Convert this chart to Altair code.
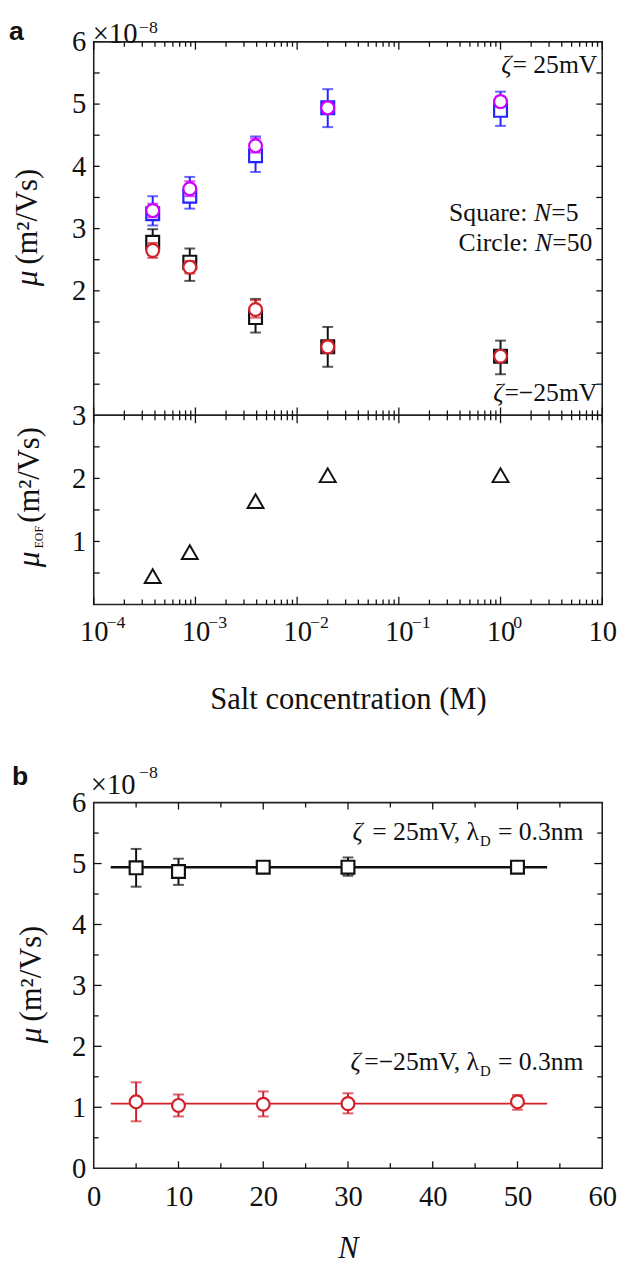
import altair as alt
import pandas as pd

# ---------------- data: panel a (top) ----------------
conc = [3.8e-4, 8.8e-4, 3.9e-3, 0.02, 1.0]
# zeta = -25 mV, square N=5 (black)
mu_sq_neg = [2.78, 2.46, 1.57, 1.10, 0.95]
lo_sq_neg = [2.60, 2.16, 1.33, 0.78, 0.66]
hi_sq_neg = [2.99, 2.68, 1.87, 1.42, 1.20]
# zeta = -25 mV, circle N=50 (red)
mu_ci_neg = [2.65, 2.38, 1.70, 1.10, 0.95]
lo_ci_neg = [2.53, 2.28, 1.57, 1.00, 0.87]
hi_ci_neg = [2.77, 2.48, 1.85, 1.20, 1.03]
# zeta = 25 mV, square N=5 (blue)
mu_sq_pos = [3.24, 3.52, 4.17, 4.94, 4.90]
lo_sq_pos = [3.05, 3.32, 3.91, 4.63, 4.65]
hi_sq_pos = [3.52, 3.83, 4.48, 5.24, 5.20]
# zeta = 25 mV, circle N=50 (magenta)
mu_ci_pos = [3.29, 3.64, 4.33, 4.94, 5.04]
lo_ci_pos = [3.18, 3.52, 4.22, 4.86, 4.96]
hi_ci_pos = [3.40, 3.76, 4.45, 5.02, 5.12]
# ---------------- data: panel a (bottom) ----------------
mu_eof = [0.45, 0.83, 1.64, 2.05, 2.05]
# ---------------- data: panel b ----------------
n_vals = [5, 10, 20, 30, 50]
mu_b_pos = [4.93, 4.87, 4.94, 4.94, 4.94]
lo_b_pos = [4.62, 4.65, 4.89, 4.80, 4.91]
hi_b_pos = [5.24, 5.08, 4.99, 5.10, 4.97]
mu_b_neg = [1.09, 1.03, 1.05, 1.06, 1.09]
lo_b_neg = [0.77, 0.85, 0.85, 0.90, 0.96]
hi_b_neg = [1.41, 1.21, 1.26, 1.23, 1.20]
fit_n = [2, 53.5]
fit_pos = [4.94, 4.94]
fit_neg = [1.06, 1.06]

# ---------------- tick values ----------------
decades = [1e-4, 1e-3, 1e-2, 1e-1, 1, 10]
decade_exp = ["\u22124", "\u22123", "\u22122", "\u22121", "0"]
minor_mult = [2, 3, 4, 5, 6, 7, 8, 9]
minor_log = [m * d for d in decades[:-1] for m in minor_mult]
y_half_top = [0.5 * i for i in range(1, 12)]
y_half_bot = [0.5 * i for i in range(1, 6)]
y_major_b = [1, 2, 3, 4, 5]
y_minor_b = [0.5, 1.5, 2.5, 3.5, 4.5, 5.5]
x_major_b = [10, 20, 30, 40, 50]
x_minor_b = [5, 15, 25, 35, 45, 55]

SERIF = "Liberation Serif"
SANS = "Liberation Sans"
W = 516
HT, HB, HBB = 379, 192, 371
BLACK, RED, BLUE, MAG = "#111111", "#d0202a", "#2424ff", "#cc00ff"
TS = 29   # tick label size
AS = 26   # annotation size

xs_log = alt.Scale(type="log", domain=[1e-4, 10], nice=False)
ys_top = alt.Scale(domain=[0, 6], nice=False, zero=False)
ys_bot = alt.Scale(domain=[0, 3], nice=False, zero=False)
xs_b = alt.Scale(domain=[0, 60], nice=False, zero=False)
ys_b = alt.Scale(domain=[0, 6], nice=False, zero=False)

ax_y_top = alt.Axis(values=[2, 3, 4, 5, 6], labelPadding=8, tickSize=0, title=None)
ax_y_bot = alt.Axis(values=[1, 2, 3], labelPadding=8, tickSize=0, title=None)
ax_x_bot = alt.Axis(values=decades, labelExpr="'10'", labelPadding=14, tickSize=0,
                    labelFlush=False, labelOverlap=False,
                    title="Salt concentration (M)", titlePadding=39)
ax_y_b = alt.Axis(values=[0, 1, 2, 3, 4, 5, 6], labelPadding=8, tickSize=0, title=None)
ax_x_b = alt.Axis(values=[0, 10, 20, 30, 40, 50, 60], labelPadding=15, tickSize=0,
                  labelFlush=False, labelOverlap=False, title="N",
                  titleFontStyle="italic", titlePadding=23)


def enc_x(field, scale, axis):
    if axis is None:
        return alt.X(field, type="quantitative", scale=scale, axis=None)
    return alt.X(field, type="quantitative", scale=scale, axis=axis)


def enc_y(field, scale, axis):
    if axis is None:
        return alt.Y(field, type="quantitative", scale=scale, axis=None)
    return alt.Y(field, type="quantitative", scale=scale, axis=axis)


def series(x, mu, lo, hi, color, shape, xsc, xax, ysc, yax, size=170, cap=11):
    d = pd.DataFrame({"x": x, "mu": mu, "lo": lo, "hi": hi})
    base = alt.Chart(d)
    bar = base.mark_rule(color=color, strokeWidth=2).encode(
        x=enc_x("x", xsc, xax), y=enc_y("lo", ysc, yax), y2="hi")
    c1 = base.mark_tick(orient="horizontal", color=color, size=cap, thickness=2).encode(
        x=enc_x("x", xsc, xax), y=enc_y("lo", ysc, yax))
    c2 = base.mark_tick(orient="horizontal", color=color, size=cap, thickness=2).encode(
        x=enc_x("x", xsc, xax), y=enc_y("hi", ysc, yax))
    pts = base.mark_point(shape=shape, filled=True, fill="white", stroke=color,
                          strokeWidth=2.2, size=size, opacity=1).encode(
        x=enc_x("x", xsc, xax), y=enc_y("mu", ysc, yax))
    return [bar, c1, c2, pts]


def yticks(vals, ysc, yax, h_len, w):
    d = pd.DataFrame({"v": vals})
    left = alt.Chart(d).mark_rule(color=BLACK, strokeWidth=1.3).encode(
        y=enc_y("v", ysc, yax), x=alt.value(0), x2=alt.value(h_len))
    right = alt.Chart(d).mark_rule(color=BLACK, strokeWidth=1.3).encode(
        y=enc_y("v", ysc, yax), x=alt.value(w - h_len), x2=alt.value(w))
    return [left, right]


def xticks(vals, xsc, xax, length, h, top=True, bottom=True):
    d = pd.DataFrame({"v": vals})
    out = []
    if top:
        out.append(alt.Chart(d).mark_rule(color=BLACK, strokeWidth=1.3).encode(
            x=enc_x("v", xsc, xax), y=alt.value(0), y2=alt.value(length)))
    if bottom:
        out.append(alt.Chart(d).mark_rule(color=BLACK, strokeWidth=1.3).encode(
            x=enc_x("v", xsc, xax), y=alt.value(h - length), y2=alt.value(h)))
    return out


def label(txt, x, y, size=AS, italic=False, align="left", baseline="alphabetic",
          angle=0, weight="normal", font=SERIF, color=BLACK):
    kw = dict(align=align, baseline=baseline, fontSize=size, font=font,
              fontStyle="italic" if italic else "normal", fontWeight=weight, color=color)
    if angle:
        kw["angle"] = angle
    return alt.Chart(pd.DataFrame({"t": [txt]})).mark_text(**kw).encode(
        x=alt.value(x), y=alt.value(y), text="t:N")


# ---------------- panel a, top ----------------
top_layers = []
top_layers += series(conc, mu_sq_neg, lo_sq_neg, hi_sq_neg, BLACK, "square", xs_log, None, ys_top, ax_y_top)
top_layers += series(conc, mu_sq_pos, lo_sq_pos, hi_sq_pos, BLUE, "square", xs_log, None, ys_top, ax_y_top)
top_layers += series(conc, mu_ci_neg, lo_ci_neg, hi_ci_neg, RED, "circle", xs_log, None, ys_top, ax_y_top)
top_layers += series(conc, mu_ci_pos, lo_ci_pos, hi_ci_pos, MAG, "circle", xs_log, None, ys_top, ax_y_top)
top_layers += yticks(y_half_top, ys_top, ax_y_top, 6, W)
top_layers += xticks(decades, xs_log, None, 8, HT)
top_layers += xticks(minor_log, xs_log, None, 5, HT)
top_layers += [
    label("a", -86, -23, size=27, weight="bold", font=SANS, baseline="top"),
    label("\u00d710", -1, -22, size=TS, baseline="top"),
    label("\u22128", 46, -23, size=18, baseline="top"),
    label("\u03b6", 424, 32, italic=True, align="right"),
    label("= 25mV", 511, 32, align="right"),
    label("Square:", 440, 182, align="right"),
    label("N", 464, 182, italic=True, align="right"),
    label("=5", 492, 182, align="right"),
    label("Circle:", 441, 212, align="right"),
    label("N", 465, 212, italic=True, align="right"),
    label("=50", 506, 212, align="right"),
    label("\u03b6", 416, 364, italic=True, align="right"),
    label("=\u221225mV", 511, 364, align="right"),
    label("(m\u00b2/Vs)", -58, 226, size=31, angle=270, align="left"),
    label("\u03bc", -58, 232, size=32, angle=270, align="right", italic=True),
]
top = alt.layer(*top_layers).properties(width=W, height=HT)

# ---------------- panel a, bottom ----------------
d_eof = pd.DataFrame({"x": conc, "mu": mu_eof})
d_exp = pd.DataFrame({"x": decades[:-1], "t": decade_exp})
bot_layers = [
    alt.Chart(d_eof).mark_point(shape="triangle-up", filled=True, fill="white", stroke=BLACK,
                                strokeWidth=2, size=260, opacity=1).encode(
        x=enc_x("x", xs_log, ax_x_bot), y=enc_y("mu", ys_bot, ax_y_bot)),
    alt.Chart(d_exp).mark_text(align="left", baseline="alphabetic", fontSize=18, font=SERIF,
                               color=BLACK, dx=13).encode(
        x=enc_x("x", xs_log, ax_x_bot), y=alt.value(HB + 24), text="t:N"),
]
bot_layers += yticks(y_half_bot, ys_bot, ax_y_bot, 6, W)
bot_layers += xticks(decades, xs_log, ax_x_bot, 8, HB)
bot_layers += xticks(minor_log, xs_log, ax_x_bot, 5, HB)
bot_layers += [
    label("(m\u00b2/Vs)", -56, 109, size=31, angle=270, align="left"),
    label("EOF", -51, 135, size=12, angle=270, align="left"),
    label("\u03bc", -56, 138, size=32, angle=270, align="right", italic=True),
]
bottom = alt.layer(*bot_layers).properties(width=W, height=HB)

panel_a = alt.vconcat(top, bottom, spacing=0, bounds="flush")

# ---------------- panel b ----------------
d_fit = pd.DataFrame({"x": fit_n, "pos": fit_pos, "neg": fit_neg})
b_layers = [
    alt.Chart(d_fit).mark_line(color=BLACK, strokeWidth=2.6).encode(
        x=enc_x("x", xs_b, ax_x_b), y=enc_y("pos", ys_b, ax_y_b)),
    alt.Chart(d_fit).mark_line(color=RED, strokeWidth=1.8).encode(
        x=enc_x("x", xs_b, ax_x_b), y=enc_y("neg", ys_b, ax_y_b)),
]
b_layers += series(n_vals, mu_b_pos, lo_b_pos, hi_b_pos, BLACK, "square", xs_b, ax_x_b, ys_b, ax_y_b)
b_layers += series(n_vals, mu_b_neg, lo_b_neg, hi_b_neg, RED, "circle", xs_b, ax_x_b, ys_b, ax_y_b)
b_layers += yticks(y_major_b, ys_b, ax_y_b, 8, W)
b_layers += yticks(y_minor_b, ys_b, ax_y_b, 5, W)
b_layers += xticks(x_major_b, xs_b, ax_x_b, 7, HBB)
b_layers += xticks(x_minor_b, xs_b, ax_x_b, 5, HBB)
b_layers += [
    label("b", -83, -39, size=27, weight="bold", font=SANS, baseline="top"),
    label("\u00d710", -3, -32, size=TS, baseline="top"),
    label("\u22128", 46, -39, size=18, baseline="top"),
    label("\u03b6", 273, 38, italic=True, align="right"),
    label("= 25mV, \u03bb", 391, 38, align="right"),
    label("D", 392, 44, size=15),
    label("= 0.3nm", 497, 38, align="right"),
    label("\u03b6", 271, 271, italic=True, align="right"),
    label("=\u221225mV, \u03bb", 391, 271, align="right"),
    label("D", 392, 277, size=15),
    label("= 0.3nm", 497, 271, align="right"),
    label("(m\u00b2/Vs)", -54, 222, size=31, angle=270, align="left"),
    label("\u03bc", -54, 228, size=32, angle=270, align="right", italic=True),
]
panel_b = alt.layer(*b_layers).properties(width=W, height=HBB)

chart = alt.vconcat(panel_a, panel_b, spacing=47).properties(
    padding=0
).configure(
    font=SERIF, background="white"
).configure_view(
    stroke="#222222", strokeWidth=1.6
).configure_axis(
    grid=False, ticks=False, domain=False,
    labelFont=SERIF, labelFontSize=TS, labelColor=BLACK,
    titleFont=SERIF, titleFontSize=31, titleColor=BLACK, titleFontWeight="normal"
)

chart.save("out.html", embed_options={"renderer": "svg", "actions": False})
